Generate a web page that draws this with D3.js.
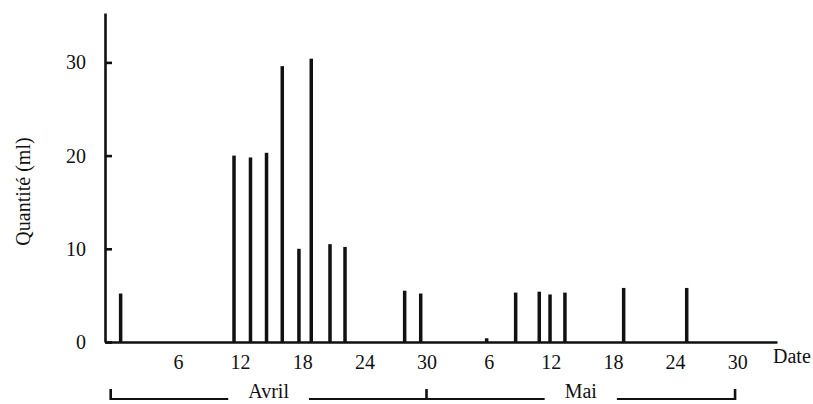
<!DOCTYPE html>
<html>
<head>
<meta charset="utf-8">
<script src="https://cdn.jsdelivr.net/npm/d3@7"></script>
<style>
  html, body { margin: 0; padding: 0; background: #fff; }
  svg { display: block; }
  text { font-family: "Liberation Serif", "Times New Roman", serif; fill: #111; }
</style>
</head>
<body>
<script>
// ---- data ----
// position of each bar along the date axis, in days from 31 March (1 = 1 April, 31 = 1 May)
const days   = [0.46, 11.41, 13.0, 14.55, 16.07, 17.68, 18.87, 20.68, 22.13, 27.89, 29.44, 35.81, 38.61, 40.89, 41.93, 43.37, 49.04, 55.13];
const values = [5.2, 20.0, 19.8, 20.3, 29.6, 10.0, 30.4, 10.5, 10.2, 5.5, 5.2, 0.4, 5.3, 5.4, 5.1, 5.3, 5.8, 5.8];

const xTickDays   = [6, 12, 18, 24, 30, 36, 42, 48, 54, 60];
const xTickLabels = ["6", "12", "18", "24", "30", "6", "12", "18", "24", "30"];
const yTicks      = [0, 10, 20, 30];

const months      = ["Avril", "Mai"];
const monthBounds = [-0.5, 30, 59.8];

const yTitle = "Quantité (ml)";
const xTitle = "Date";

// ---- layout ----
const W = 813, H = 404;
const svg = d3.select("body").append("svg").attr("width", W).attr("height", H);
svg.append("rect").attr("width", W).attr("height", H).attr("fill", "#fff");

const x = d3.scaleLinear().domain([-1.05, 63.85]).range([105, 777]);
const y = d3.scaleLinear().domain([0, 35.3]).range([342, 13]);

const ink = "#111";

// y axis
const yAxis = svg.append("g")
  .attr("transform", `translate(${x.range()[0]},0)`)
  .call(d3.axisLeft(y).tickValues(yTicks).tickSizeInner(-7).tickSizeOuter(0).tickPadding(19));
yAxis.select(".domain").attr("stroke", ink).attr("stroke-width", 2.6);
yAxis.selectAll(".tick line").attr("stroke", ink).attr("stroke-width", 2.6);
yAxis.selectAll(".tick text").attr("font-size", 20).attr("font-family", "Liberation Serif, serif").attr("fill", ink);

// x axis
const xAxis = svg.append("g")
  .attr("transform", `translate(0,${y(0)})`)
  .call(d3.axisBottom(x).tickValues(xTickDays).tickFormat((d, i) => xTickLabels[i]).tickSize(0).tickPadding(13));
xAxis.select(".domain").attr("stroke", ink).attr("stroke-width", 2.6);
xAxis.selectAll(".tick text").attr("font-size", 20).attr("font-family", "Liberation Serif, serif").attr("fill", ink);

// bars
svg.append("g").selectAll("rect")
  .data(days.map((d, i) => ({ d, v: values[i] })))
  .join("rect")
  .attr("x", p => x(p.d) - 1.75)
  .attr("width", 3.5)
  .attr("y", p => y(p.v))
  .attr("height", p => y(0) - y(p.v))
  .attr("fill", ink);

// titles
svg.append("text")
  .attr("transform", `translate(22.5,${(y(0) + y(35.3)) / 2 + 14}) rotate(-90)`)
  .attr("text-anchor", "middle")
  .attr("dominant-baseline", "central")
  .attr("font-size", 20)
  .text(yTitle);

svg.append("text")
  .attr("x", 773).attr("y", 363)
  .attr("font-size", 20)
  .text(xTitle);

// month brackets
const by = 399, tickH = 10, pad = 20;
const mg = svg.append("g");
months.forEach((m, i) => {
  const a = x(monthBounds[i]), b = x(monthBounds[i + 1]);
  const cx = (a + b) / 2;
  const t = mg.append("text")
    .attr("x", cx).attr("y", 398)
    .attr("text-anchor", "middle")
    .attr("font-size", 20)
    .text(m);
  const tw = t.node().getComputedTextLength();
  mg.append("line").attr("x1", a).attr("x2", cx - tw / 2 - pad).attr("y1", by).attr("y2", by)
    .attr("stroke", ink).attr("stroke-width", 2);
  mg.append("line").attr("x1", cx + tw / 2 + pad).attr("x2", b).attr("y1", by).attr("y2", by)
    .attr("stroke", ink).attr("stroke-width", 2);
});
monthBounds.forEach(v => {
  mg.append("line").attr("x1", x(v)).attr("x2", x(v)).attr("y1", by + 1).attr("y2", by - tickH)
    .attr("stroke", ink).attr("stroke-width", 2.6);
});
</script>
</body>
</html>
